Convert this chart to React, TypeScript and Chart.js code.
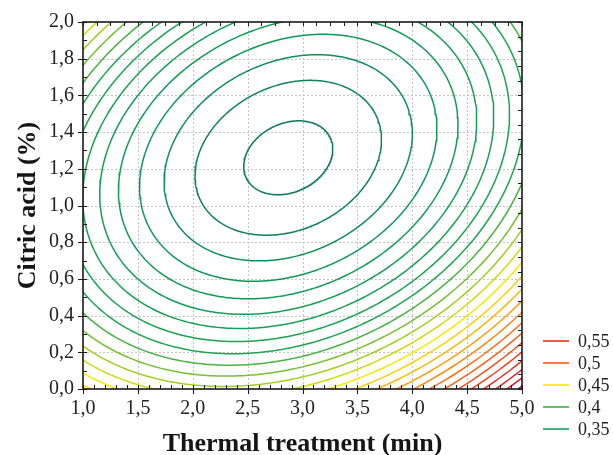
import { useEffect, useRef } from "react";
import { Chart, registerables } from "chart.js";

Chart.register(...registerables);

// Second-order response surface: f = B0 + B1*t + B2*c + B11*t^2 + B22*c^2 + B12*t*c
// t = thermal treatment (min), c = citric acid (%)
const B0 = 0.5307;
const B1 = -0.08638;
const B2 = -0.14238;
const B11 = 0.019;
const B22 = 0.077;
const B12 = -0.018;

// Contour levels drawn on the plot
const LEVELS = [
  0.32, 0.33, 0.34, 0.35, 0.36, 0.37, 0.38, 0.39, 0.4, 0.41, 0.42, 0.43, 0.44,
  0.45, 0.46, 0.47, 0.48, 0.49, 0.5, 0.51, 0.52, 0.53, 0.54, 0.55, 0.56, 0.57,
];

const X_TICKS = [1, 1.5, 2, 2.5, 3, 3.5, 4, 4.5, 5];
const Y_TICKS = [0, 0.2, 0.4, 0.6, 0.8, 1, 1.2, 1.4, 1.6, 1.8, 2];

const LEGEND_VALUES = [0.55, 0.5, 0.45, 0.4, 0.35];
const LEGEND_COLORS = ["#f42a1e", "#ff5a12", "#fbe800", "#3cb14e", "#17a05a"];

// Colour ramp used for the contour lines
const RAMP_VALUES = [0.32, 0.35, 0.4, 0.45, 0.5, 0.55, 0.58];
const RAMP_COLORS: [number, number, number][] = [
  [12, 122, 88],
  [16, 152, 86],
  [28, 166, 80],
  [250, 232, 0],
  [255, 110, 22],
  [226, 34, 40],
  [184, 10, 48],
];

const FONT = "'Liberation Serif', 'Times New Roman', serif";
const fmt = (v: number) => v.toFixed(1).replace(".", ",");

function rampColor(v: number): string {
  if (v <= RAMP_VALUES[0]) return `rgb(${RAMP_COLORS[0].join(",")})`;
  for (let i = 1; i < RAMP_VALUES.length; i++) {
    if (v <= RAMP_VALUES[i]) {
      const f = (v - RAMP_VALUES[i - 1]) / (RAMP_VALUES[i] - RAMP_VALUES[i - 1]);
      const a = RAMP_COLORS[i - 1];
      const b = RAMP_COLORS[i];
      const c = a.map((ch, k) => Math.round(ch + (b[k] - ch) * f));
      return `rgb(${c.join(",")})`;
    }
  }
  return `rgb(${RAMP_COLORS[RAMP_COLORS.length - 1].join(",")})`;
}

// Stationary point of the surface and its value
function surfaceCentre() {
  const p = 2 * B11;
  const q = 2 * B22;
  const r = B12;
  const det = p * q - r * r;
  const x = (-B1 * q + B2 * r) / det;
  const y = (-B2 * p + B1 * r) / det;
  const fmin = B0 + 0.5 * (B1 * x + B2 * y);
  return { x, y, fmin };
}

// Closed iso-line of the quadratic surface for one level (an ellipse)
function isoLine(level: number) {
  const { x, y, fmin } = surfaceCentre();
  const pts: { x: number; y: number }[] = [];
  const s = level - fmin;
  if (s <= 0) return pts;
  const n = 360;
  for (let i = 0; i <= n; i++) {
    const a = (i / n) * Math.PI * 2;
    const cx = Math.cos(a);
    const cy = Math.sin(a);
    const q = B11 * cx * cx + B22 * cy * cy + B12 * cx * cy;
    const t = Math.sqrt(s / q);
    pts.push({ x: x + t * cx, y: y + t * cy });
  }
  return pts;
}

const framePlugin = {
  id: "statFrame",
  beforeDatasetsDraw(chart: any) {
    const { ctx, chartArea: ca, scales } = chart;
    const xs = scales.x;
    const ys = scales.y;
    ctx.save();
    ctx.strokeStyle = "#c4c4c4";
    ctx.lineWidth = 1;
    ctx.setLineDash([2, 2]);
    X_TICKS.slice(1, -1).forEach((v) => {
      const px = Math.round(xs.getPixelForValue(v)) + 0.5;
      ctx.beginPath();
      ctx.moveTo(px, ca.top);
      ctx.lineTo(px, ca.bottom);
      ctx.stroke();
    });
    Y_TICKS.slice(1, -1).forEach((v) => {
      const py = Math.round(ys.getPixelForValue(v)) + 0.5;
      ctx.beginPath();
      ctx.moveTo(ca.left, py);
      ctx.lineTo(ca.right, py);
      ctx.stroke();
    });
    ctx.restore();
  },
  afterDatasetsDraw(chart: any) {
    const { ctx, chartArea: ca, scales } = chart;
    const xs = scales.x;
    const ys = scales.y;
    ctx.save();
    ctx.strokeStyle = "#1a1a1a";
    ctx.lineWidth = 1;
    ctx.setLineDash([]);
    const line = (x1: number, y1: number, x2: number, y2: number) => {
      ctx.beginPath();
      ctx.moveTo(x1, y1);
      ctx.lineTo(x2, y2);
      ctx.stroke();
    };
    // minor ticks, pointing inwards
    for (let i = 0; i <= 20; i++) {
      const py = Math.round(ys.getPixelForValue(i * 0.1)) + 0.5;
      line(ca.left, py, ca.left + 4, py);
    }
    for (let i = 0; i <= 25; i++) {
      const py = Math.round(ys.getPixelForValue(i * 0.08)) + 0.5;
      line(ca.right, py, ca.right - 4, py);
    }
    for (let i = 0; i <= 40; i++) {
      const px = Math.round(xs.getPixelForValue(1 + i * 0.1)) + 0.5;
      line(px, ca.bottom, px, ca.bottom - 4);
    }
    for (let i = 0; i <= 32; i++) {
      const px = Math.round(xs.getPixelForValue(1 + i * 0.125)) + 0.5;
      line(px, ca.top, px, ca.top + 4);
    }
    // major ticks, pointing outwards
    Y_TICKS.forEach((v) => {
      const py = Math.round(ys.getPixelForValue(v)) + 0.5;
      line(ca.left - 5, py, ca.left, py);
    });
    X_TICKS.forEach((v) => {
      const px = Math.round(xs.getPixelForValue(v)) + 0.5;
      line(px, ca.bottom, px, ca.bottom + 5);
    });
    // frame
    ctx.lineWidth = 1.6;
    ctx.strokeRect(ca.left, ca.top, ca.right - ca.left, ca.bottom - ca.top);

    // legend
    ctx.font = `18px ${FONT}`;
    ctx.textAlign = "left";
    ctx.textBaseline = "middle";
    LEGEND_VALUES.forEach((v, i) => {
      const y = 341 + i * 22;
      ctx.strokeStyle = LEGEND_COLORS[i];
      ctx.lineWidth = 1.6;
      line(ca.right + 21, y, ca.right + 47, y);
      ctx.fillStyle = "#222";
      ctx.fillText(String(v).replace(".", ","), ca.right + 56, y + 1);
    });
    ctx.restore();
  },
};

export default function App() {
  const canvasRef = useRef<HTMLCanvasElement | null>(null);

  useEffect(() => {
    const canvas = canvasRef.current;
    if (!canvas) return;

    const datasets = LEVELS.map((lv) => ({
      label: String(lv),
      data: isoLine(lv),
      showLine: true,
      borderColor: rampColor(lv),
      borderWidth: 1.5,
      pointRadius: 0,
      fill: false,
      tension: 0,
      clip: 0,
    }));

    const chart = new Chart(canvas, {
      type: "scatter",
      data: { datasets },
      options: {
        responsive: false,
        animation: false,
        events: [],
        layout: { padding: { top: 22, right: 91, left: 0, bottom: 0 } },
        plugins: {
          legend: { display: false },
          tooltip: { enabled: false },
        },
        scales: {
          x: {
            type: "linear",
            min: 1,
            max: 5,
            grid: { display: false, drawTicks: false },
            border: { display: false },
            ticks: {
              stepSize: 0.5,
              autoSkip: false,
              maxRotation: 0,
              padding: 8,
              color: "#222",
              font: { family: FONT, size: 20 },
              callback: (v: any) => fmt(Number(v)),
            },
            title: {
              display: true,
              text: "Thermal treatment (min)",
              color: "#151515",
              font: { family: FONT, size: 26, weight: "bold", lineHeight: 1 },
              padding: { top: 0, bottom: -2.5 },
            },
            afterFit: (s: any) => {
              s.height = 66;
            },
          },
          y: {
            type: "linear",
            min: 0,
            max: 2,
            grid: { display: false, drawTicks: false },
            border: { display: false },
            ticks: {
              stepSize: 0.2,
              autoSkip: false,
              padding: 9,
              color: "#222",
              font: { family: FONT, size: 20 },
              callback: (v: any) => fmt(Number(v)),
            },
            title: {
              display: true,
              text: "Citric acid (%)",
              color: "#151515",
              font: { family: FONT, size: 26, weight: "bold", lineHeight: 1 },
              padding: { top: 15, bottom: 0 },
            },
            afterFit: (s: any) => {
              s.width = 83;
            },
          },
        },
      },
      plugins: [framePlugin],
    } as any);

    return () => chart.destroy();
  }, []);

  return (
    <div style={{ position: "fixed", left: 0, top: 0, width: 613, height: 455, background: "#fff" }}>
      <canvas ref={canvasRef} width={613} height={455} style={{ display: "block" }} />
    </div>
  );
}
